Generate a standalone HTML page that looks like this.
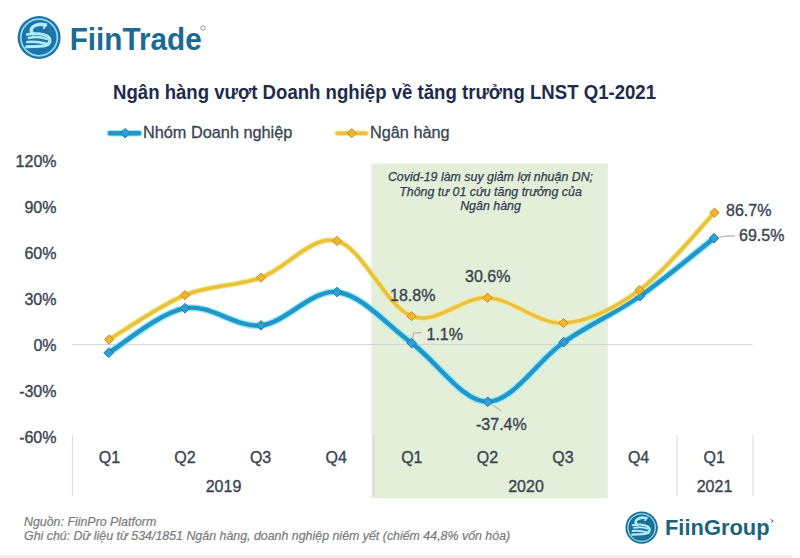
<!DOCTYPE html>
<html><head><meta charset="utf-8">
<style>
html,body{margin:0;padding:0;background:#fff;}
body{width:800px;height:558px;position:relative;overflow:hidden;font-family:"Liberation Sans",sans-serif;}
svg{position:absolute;left:0;top:0;}
</style></head><body>
<svg width="800" height="558" viewBox="0 0 800 558" font-family="Liberation Sans, sans-serif">
<rect x="0" y="555" width="792" height="3" fill="#efefef"/>
<!-- FiinTrade logo -->
<g transform="translate(39.1,37.5) scale(21.5)">
<circle r="1" fill="#1e74a6"/>
<circle r="0.85" fill="none" stroke="#8fdcf5" stroke-width="0.08"/>
<g fill="none" stroke="#b0ecfa" stroke-linecap="round">
<path d="M0.30,-0.58 C0.15,-0.62 -0.10,-0.64 -0.28,-0.50 C-0.40,-0.40 -0.40,-0.25 -0.28,-0.17" stroke-width="0.16"/>
<path d="M0.31,-0.62 L0.22,-0.44" stroke-width="0.10"/>
<path d="M-0.55,-0.14 C-0.2,-0.22 0.20,-0.18 0.40,-0.05" stroke-width="0.13"/>
<path d="M-0.48,0.02 C-0.2,-0.04 0.15,-0.02 0.36,0.07" stroke-width="0.11"/>
<path d="M0.37,-0.07 C0.54,0.04 0.54,0.22 0.40,0.32" stroke-width="0.15"/>
<path d="M-0.55,0.21 C-0.2,0.16 0.10,0.22 0.40,0.30" stroke-width="0.12"/>
<path d="M-0.58,0.43 C-0.25,0.38 0.15,0.48 0.42,0.32" stroke-width="0.14"/>
</g></g>
<text x="0" y="0" transform="translate(69.7,50.1) scale(1,1.083)" font-weight="bold" font-size="29.7" fill="#1b6a95">FiinTrade</text>
<circle cx="203" cy="28" r="2.2" fill="none" stroke="#7a8a95" stroke-width="0.9"/>
<!-- title -->
<text x="0" y="0" transform="translate(113,99.3) scale(1,1.04)" font-weight="bold" font-size="18.6" fill="#1e2b4b">Ngân hàng vượt Doanh nghiệp về tăng trưởng LNST Q1-2021</text>
<!-- legend -->
<line x1="110" y1="133.2" x2="139" y2="133.2" stroke="#8aeefa" stroke-width="6.5" stroke-linecap="round"/>
<line x1="110" y1="133.2" x2="139" y2="133.2" stroke="#2594c8" stroke-width="4.4" stroke-linecap="round"/>
<path d="M125.2,128.4 L130.0,133.2 L125.2,138.0 L120.4,133.2 Z" fill="#2f9fd8" stroke="#1f78a8" stroke-width="1"/>
<text x="143" y="138" font-size="16.3" fill="#3a4450" stroke="#3a4450" stroke-width="0.3">Nhóm Doanh nghiệp</text>
<line x1="337.5" y1="133.2" x2="366" y2="133.2" stroke="#f7e58a" stroke-width="5.5" stroke-linecap="round"/>
<line x1="337.5" y1="133.2" x2="366" y2="133.2" stroke="#e8c23c" stroke-width="3.4" stroke-linecap="round"/>
<path d="M351.7,128.6 L356.3,133.2 L351.7,137.8 L347.1,133.2 Z" fill="#f2b530" stroke="#c98a1e" stroke-width="1"/>
<text x="370" y="138" font-size="16.3" fill="#3a4450" stroke="#3a4450" stroke-width="0.3">Ngân hàng</text>
<!-- green box -->
<rect x="371.4" y="163.6" width="236.4" height="334.6" fill="#e4efd9"/>
<g font-style="italic" font-size="12.4" fill="#2f3b50" stroke="#2f3b50" stroke-width="0.25" text-anchor="middle">
<text x="490.5" y="181">Covid-19 làm suy giảm lợi nhuận DN;</text>
<text x="490.5" y="195.5">Thông tư 01 cứu tăng trưởng của</text>
<text x="490.5" y="210">Ngân hàng</text>
</g>
<!-- axes -->
<line x1="72" y1="344.5" x2="752.5" y2="344.5" stroke="#d4d4d4" stroke-width="1.1"/>
<line x1="72.4" y1="435" x2="72.4" y2="496" stroke="#d9d9d9" stroke-width="1"/>
<line x1="374" y1="435" x2="374" y2="496" stroke="#cdd5c6" stroke-width="1.2"/>
<line x1="677" y1="435" x2="677" y2="496" stroke="#d9d9d9" stroke-width="1"/>
<line x1="753" y1="435" x2="753" y2="496" stroke="#d9d9d9" stroke-width="1"/>
<g font-size="16" fill="#3a4450" stroke="#3a4450" stroke-width="0.35">
<text x="56.5" y="166.7" text-anchor="end">120%</text><text x="56.5" y="212.7" text-anchor="end">90%</text><text x="56.5" y="258.7" text-anchor="end">60%</text><text x="56.5" y="304.7" text-anchor="end">30%</text><text x="56.5" y="350.7" text-anchor="end">0%</text><text x="56.5" y="396.7" text-anchor="end">-30%</text><text x="56.5" y="442.7" text-anchor="end">-60%</text>
<text x="109.4" y="462.5" text-anchor="middle">Q1</text><text x="185.0" y="462.5" text-anchor="middle">Q2</text><text x="260.6" y="462.5" text-anchor="middle">Q3</text><text x="336.2" y="462.5" text-anchor="middle">Q4</text><text x="411.8" y="462.5" text-anchor="middle">Q1</text><text x="487.4" y="462.5" text-anchor="middle">Q2</text><text x="563.0" y="462.5" text-anchor="middle">Q3</text><text x="638.6" y="462.5" text-anchor="middle">Q4</text><text x="714.2" y="462.5" text-anchor="middle">Q1</text><text x="223.5" y="492" text-anchor="middle">2019</text><text x="526" y="492" text-anchor="middle">2020</text><text x="714.5" y="492" text-anchor="middle">2021</text>
</g>
<!-- lines -->
<path d="M108.7,352.8 C121.4,345.4 159.6,312.8 185.0,308.2 C210.4,303.6 235.7,328.1 261.0,325.4 C286.3,322.7 311.9,289.1 337.0,292.0 C362.1,294.9 386.6,324.8 411.7,343.1 C436.8,361.4 462.4,401.9 487.8,401.8 C513.1,401.6 538.3,359.8 563.7,342.2 C589.1,324.6 614.9,313.5 639.9,296.2 C664.9,278.9 701.6,247.9 714.0,238.2" fill="none" stroke="#8aeefa" stroke-width="6.9" stroke-linecap="round" stroke-linejoin="round"/>
<path d="M108.7,352.8 C121.4,345.4 159.6,312.8 185.0,308.2 C210.4,303.6 235.7,328.1 261.0,325.4 C286.3,322.7 311.9,289.1 337.0,292.0 C362.1,294.9 386.6,324.8 411.7,343.1 C436.8,361.4 462.4,401.9 487.8,401.8 C513.1,401.6 538.3,359.8 563.7,342.2 C589.1,324.6 614.9,313.5 639.9,296.2 C664.9,278.9 701.6,247.9 714.0,238.2" fill="none" stroke="#2594c8" stroke-width="4.4" stroke-linecap="round" stroke-linejoin="round"/>
<path d="M108.7,348.0 L113.5,352.8 L108.7,357.6 L103.9,352.8 Z" fill="#2f9fd8" stroke="#1f78a8" stroke-width="1"/><path d="M185.0,303.4 L189.8,308.2 L185.0,313.0 L180.2,308.2 Z" fill="#2f9fd8" stroke="#1f78a8" stroke-width="1"/><path d="M261.0,320.6 L265.8,325.4 L261.0,330.2 L256.2,325.4 Z" fill="#2f9fd8" stroke="#1f78a8" stroke-width="1"/><path d="M337.0,287.2 L341.8,292.0 L337.0,296.8 L332.2,292.0 Z" fill="#2f9fd8" stroke="#1f78a8" stroke-width="1"/><path d="M411.7,338.3 L416.5,343.1 L411.7,347.9 L406.9,343.1 Z" fill="#2f9fd8" stroke="#1f78a8" stroke-width="1"/><path d="M487.8,396.9 L492.6,401.8 L487.8,406.6 L482.9,401.8 Z" fill="#2f9fd8" stroke="#1f78a8" stroke-width="1"/><path d="M563.7,337.4 L568.5,342.2 L563.7,347.0 L558.9,342.2 Z" fill="#2f9fd8" stroke="#1f78a8" stroke-width="1"/><path d="M639.9,291.4 L644.7,296.2 L639.9,301.0 L635.1,296.2 Z" fill="#2f9fd8" stroke="#1f78a8" stroke-width="1"/><path d="M714.0,233.4 L718.8,238.2 L714.0,243.0 L709.2,238.2 Z" fill="#2f9fd8" stroke="#1f78a8" stroke-width="1"/>
<path d="M109.2,339.5 C121.8,332.1 159.7,305.4 185.0,295.1 C210.3,284.8 235.7,286.6 261.0,277.6 C286.3,268.6 311.9,234.5 337.0,240.9 C362.1,247.3 386.4,306.7 411.5,316.2 C436.6,325.7 462.2,296.5 487.5,297.7 C512.8,298.9 538.2,324.4 563.5,323.1 C588.8,321.9 614.3,308.6 639.5,290.2 C664.7,271.8 702.0,225.5 714.5,212.6" fill="none" stroke="#f7e58a" stroke-width="5.6" stroke-linecap="round" stroke-linejoin="round"/>
<path d="M109.2,339.5 C121.8,332.1 159.7,305.4 185.0,295.1 C210.3,284.8 235.7,286.6 261.0,277.6 C286.3,268.6 311.9,234.5 337.0,240.9 C362.1,247.3 386.4,306.7 411.5,316.2 C436.6,325.7 462.2,296.5 487.5,297.7 C512.8,298.9 538.2,324.4 563.5,323.1 C588.8,321.9 614.3,308.6 639.5,290.2 C664.7,271.8 702.0,225.5 714.5,212.6" fill="none" stroke="#e8c23c" stroke-width="3.4" stroke-linecap="round" stroke-linejoin="round"/>
<path d="M109.2,334.9 L113.8,339.5 L109.2,344.1 L104.6,339.5 Z" fill="#f2b530" stroke="#c98a1e" stroke-width="1"/><path d="M185.0,290.5 L189.6,295.1 L185.0,299.7 L180.4,295.1 Z" fill="#f2b530" stroke="#c98a1e" stroke-width="1"/><path d="M261.0,273.0 L265.6,277.6 L261.0,282.2 L256.4,277.6 Z" fill="#f2b530" stroke="#c98a1e" stroke-width="1"/><path d="M337.0,236.3 L341.6,240.9 L337.0,245.5 L332.4,240.9 Z" fill="#f2b530" stroke="#c98a1e" stroke-width="1"/><path d="M411.5,311.6 L416.1,316.2 L411.5,320.8 L406.9,316.2 Z" fill="#f2b530" stroke="#c98a1e" stroke-width="1"/><path d="M487.5,293.1 L492.1,297.7 L487.5,302.3 L482.9,297.7 Z" fill="#f2b530" stroke="#c98a1e" stroke-width="1"/><path d="M563.5,318.5 L568.1,323.1 L563.5,327.7 L558.9,323.1 Z" fill="#f2b530" stroke="#c98a1e" stroke-width="1"/><path d="M639.5,285.6 L644.1,290.2 L639.5,294.8 L634.9,290.2 Z" fill="#f2b530" stroke="#c98a1e" stroke-width="1"/><path d="M714.5,208.0 L719.1,212.6 L714.5,217.2 L709.9,212.6 Z" fill="#f2b530" stroke="#c98a1e" stroke-width="1"/>
<!-- data labels -->
<g font-size="16" fill="#3a4450" stroke="#3a4450" stroke-width="0.35">
<text x="390" y="301">18.8%</text>
<text x="465" y="282">30.6%</text>
<text x="426.5" y="340">1.1%</text>
<text x="476" y="429.5">-37.4%</text>
<text x="726" y="216">86.7%</text>
<text x="739" y="241">69.5%</text>
</g>
<path d="M412.6,338.5 L413.5,333.6 Q413.8,332.7 415,332.7 L421.5,332.6" fill="none" stroke="#b0b0a8" stroke-width="1.1"/>
<path d="M491.5,404.5 L501.2,410.8" fill="none" stroke="#a8a8a0" stroke-width="1"/>
<path d="M719.5,237.2 Q726,235.8 735,235.9" fill="none" stroke="#b0b0b0" stroke-width="1.1"/>
<!-- footer -->
<g font-style="italic" font-size="12.4" fill="#7a7a7a" stroke="#7a7a7a" stroke-width="0.2">
<text x="24" y="526">Nguồn: FiinPro Platform</text>
<text x="24" y="539.5">Ghi chú: Dữ liệu từ 534/1851 Ngân hàng, doanh nghiệp niêm yết (chiếm 44,8% vốn hóa)</text>
</g>
<!-- FiinGroup logo -->
<g transform="translate(641.6,527.6) scale(16.2)">
<circle r="1" fill="#1d6f94"/>
<circle r="0.85" fill="none" stroke="#8fdcf5" stroke-width="0.08"/>
<g fill="none" stroke="#b0ecfa" stroke-linecap="round">
<path d="M0.30,-0.58 C0.15,-0.62 -0.10,-0.64 -0.28,-0.50 C-0.40,-0.40 -0.40,-0.25 -0.28,-0.17" stroke-width="0.16"/>
<path d="M0.31,-0.62 L0.22,-0.44" stroke-width="0.10"/>
<path d="M-0.55,-0.14 C-0.2,-0.22 0.20,-0.18 0.40,-0.05" stroke-width="0.13"/>
<path d="M-0.48,0.02 C-0.2,-0.04 0.15,-0.02 0.36,0.07" stroke-width="0.11"/>
<path d="M0.37,-0.07 C0.54,0.04 0.54,0.22 0.40,0.32" stroke-width="0.15"/>
<path d="M-0.55,0.21 C-0.2,0.16 0.10,0.22 0.40,0.30" stroke-width="0.12"/>
<path d="M-0.58,0.43 C-0.25,0.38 0.15,0.48 0.42,0.32" stroke-width="0.14"/>
</g></g>
<text x="665" y="535.2" font-weight="bold" font-size="21.9" fill="#1d6378">FiinGroup</text>
<path d="M770.5,519.3 L773.2,521 L771,522.8" fill="none" stroke="#555" stroke-width="0.9"/>
</svg>
</body></html>
